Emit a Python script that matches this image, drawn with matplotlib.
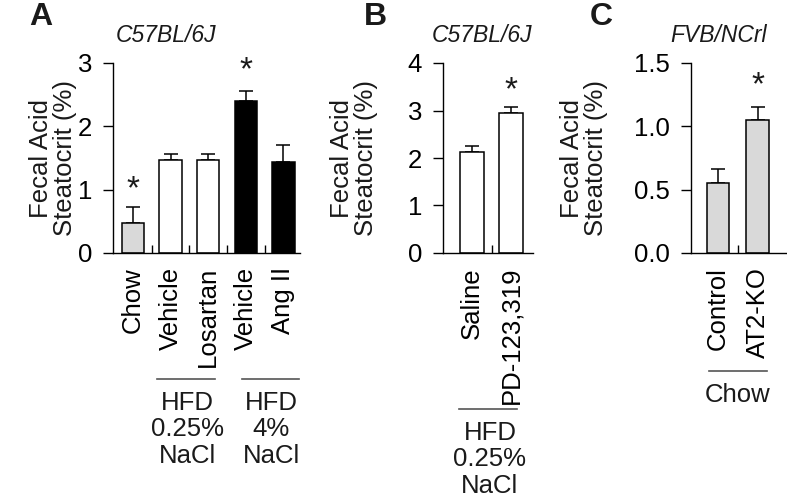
import numpy as np
import matplotlib
matplotlib.use("Agg")
import matplotlib.pyplot as plt
from matplotlib import transforms

plt.rcParams["font.family"] = ["Liberation Sans", "DejaVu Sans"]
plt.rcParams["font.size"] = 18.5
plt.rcParams["text.color"] = "#1a1a1a"

# panel A
a_labels = ["Chow", "Vehicle", "Losartan", "Vehicle", "Ang II"]
a_means = [0.48, 1.47, 1.47, 2.40, 1.43]
a_err = [0.25, 0.10, 0.10, 0.16, 0.27]
a_colors = ["#d9d9d9", "white", "white", "black", "black"]
a_stars = [0, 3]

# panel B
b_labels = ["Saline", "PD-123,319"]
b_means = [2.13, 2.94]
b_err = [0.13, 0.14]
b_colors = ["white", "white"]
b_stars = [1]

# panel C
c_labels = ["Control", "AT2-KO"]
c_means = [0.55, 1.05]
c_err = [0.11, 0.10]
c_colors = ["#d9d9d9", "#d9d9d9"]
c_stars = [1]

W, H = 787, 499
fig = plt.figure(figsize=(W / 100, H / 100), dpi=100)


def px_ax(left, right, top, bottom):
    return fig.add_axes([left / W, 1 - bottom / H, (right - left) / W, (bottom - top) / H])


def draw_panel(ax, labels, means, errs, colors, stars, width, xlim, ylim, yticks, ytl, star_y):
    x = np.arange(len(means))
    ax.bar(x, means, width=width, color=colors, edgecolor="black", linewidth=1.1, zorder=2)
    ax.errorbar(x, means, yerr=[np.zeros(len(errs)), errs], fmt="none", ecolor="black",
                elinewidth=1.1, capsize=5, capthick=1.1, zorder=1)
    for i, s in zip(stars, star_y):
        ax.annotate("*", xy=(i, s), xytext=(0, -11), textcoords="offset points",
                    ha="center", va="baseline", fontsize=24)
    ax.set_xlim(*xlim)
    ax.set_ylim(*ylim)
    ax.set_yticks(yticks)
    ax.set_yticklabels(ytl)
    ax.set_xticks(x)
    ax.set_xticklabels(labels, rotation=90, va="top")
    ax.set_xticks(x[:-1] + 0.5, minor=True)
    ax.tick_params(axis="x", which="major", length=0, pad=10)
    ax.tick_params(axis="x", which="minor", direction="in", length=6, width=1)
    ax.tick_params(axis="y", length=7, width=1, pad=8)
    for s in ["top", "right"]:
        ax.spines[s].set_visible(False)
    for s in ["left", "bottom"]:
        ax.spines[s].set_linewidth(1)
    ax.set_facecolor("none")


def group(ax, x0, x1, xc, ypx, text):
    tr = transforms.blended_transform_factory(ax.transData, fig.transFigure)
    y = 1 - ypx / H
    ax.plot([x0, x1], [y, y], transform=tr, color="#555555", lw=1.2, clip_on=False)
    ax.text(xc, y - 12 / H, text, transform=tr, ha="center", va="top", linespacing=1.12)


axA = px_ax(113, 300, 63, 253)
draw_panel(axA, a_labels, a_means, a_err, a_colors, a_stars, 0.6, (-0.53, 4.44), (0, 3),
           [0, 1, 2, 3], ["0", "1", "2", "3"], [1.1, 2.98])
group(axA, 0.64, 2.18, 1.45, 379, "HFD\n0.25%\nNaCl")
group(axA, 2.9, 4.42, 3.68, 379, "HFD\n4%\nNaCl")

axB = px_ax(443, 533, 63, 253)
draw_panel(axB, b_labels, b_means, b_err, b_colors, b_stars, 0.62, (-0.74, 1.56), (0, 4),
           [0, 1, 2, 3, 4], ["0", "1", "2", "3", "4"], [3.56])
group(axB, -0.33, 1.15, 0.46, 409, "HFD\n0.25%\nNaCl")

axC = px_ax(691, 786, 63, 253)
draw_panel(axC, c_labels, c_means, c_err, c_colors, c_stars, 0.57, (-0.68, 1.72), (0, 1.5),
           [0, 0.5, 1.0, 1.5], ["0.0", "0.5", "1.0", "1.5"], [1.37])
group(axC, -0.23, 1.24, 0.5, 371, "Chow")

# y labels
for xc in [53, 354, 584]:
    fig.text(xc / W, 1 - 158 / H, "Fecal Acid\nSteatocrit (%)", rotation=90,
             ha="center", va="center", linespacing=0.95)

# panel letters and strain titles
for xc, letter in [(41, "A"), (375, "B"), (601, "C")]:
    fig.text(xc / W, 1 - 17 / H, letter, ha="center", va="center", fontsize=23, fontweight="bold")
for xc, title in [(166, "C57BL/6J"), (482, "C57BL/6J"), (719, "FVB/NCrl")]:
    fig.text(xc / W, 1 - 35 / H, title, ha="center", va="center", fontsize=16.5, style="italic")

fig.savefig("out.png", dpi=100)
